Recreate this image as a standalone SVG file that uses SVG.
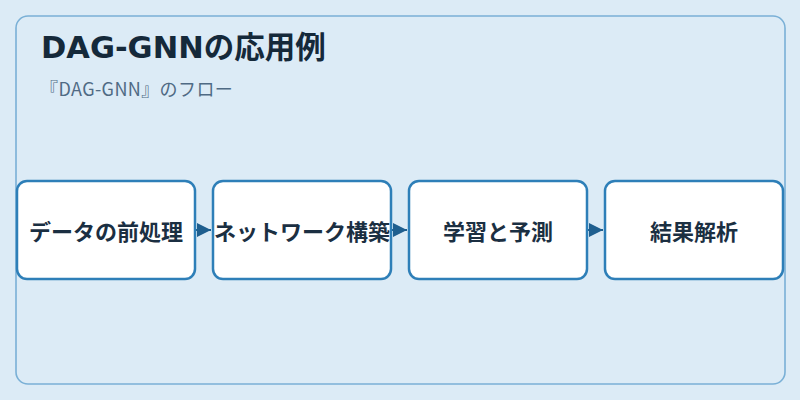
<svg xmlns="http://www.w3.org/2000/svg" width="800" height="400" viewBox="0 0 800 400">
<defs>
<style>
.node rect{fill:#ffffff;stroke:#2e7fb8;stroke-width:2.5}
.node text{font-family:"Noto Sans CJK JP","Noto Sans",sans-serif;font-weight:bold;font-size:22px;fill:#1b2f42;text-anchor:middle;dominant-baseline:central}
.conn line{stroke:#1f5f8f;stroke-width:2}
</style>
<marker id="arr" viewBox="0 0 10 10" refX="10" refY="5" markerWidth="14" markerHeight="17" markerUnits="userSpaceOnUse" orient="auto">
<path d="M0,0 L10,5 L0,10 Z" fill="#1f5f8f"/>
</marker>
</defs>
<rect x="0" y="0" width="800" height="400" fill="#dcebf6"/>
<rect id="panel" x="16" y="16" width="769" height="368" rx="12" fill="#dcebf6" stroke="#7ab0d6" stroke-width="1.6"/>
<text x="41" y="58" font-family="'DejaVu Sans','Noto Sans CJK JP',sans-serif" font-weight="bold" font-size="30.5" fill="#15293a">DAG-GNNの応用例</text>
<text x="40" y="96" font-family="'Noto Sans CJK JP','Noto Sans',sans-serif" font-size="18" letter-spacing="0.4" fill="#4f6a84">『DAG-GNN』のフロー</text>
<g id="connectors" class="conn">
<line x1="196" y1="230" x2="211" y2="230" marker-end="url(#arr)"/>
<line x1="392" y1="230" x2="407" y2="230" marker-end="url(#arr)"/>
<line x1="588" y1="230" x2="603" y2="230" marker-end="url(#arr)"/>
</g>
<g id="node1" class="node"><rect x="17" y="181" width="178" height="98" rx="10"/><text x="106" y="230">データの前処理</text></g>
<g id="node2" class="node"><rect x="213" y="181" width="178" height="98" rx="10"/><text x="302" y="230">ネットワーク構築</text></g>
<g id="node3" class="node"><rect x="409" y="181" width="178" height="98" rx="10"/><text x="498" y="230">学習と予測</text></g>
<g id="node4" class="node"><rect x="605" y="181" width="178" height="98" rx="10"/><text x="694" y="230">結果解析</text></g>
</svg>
